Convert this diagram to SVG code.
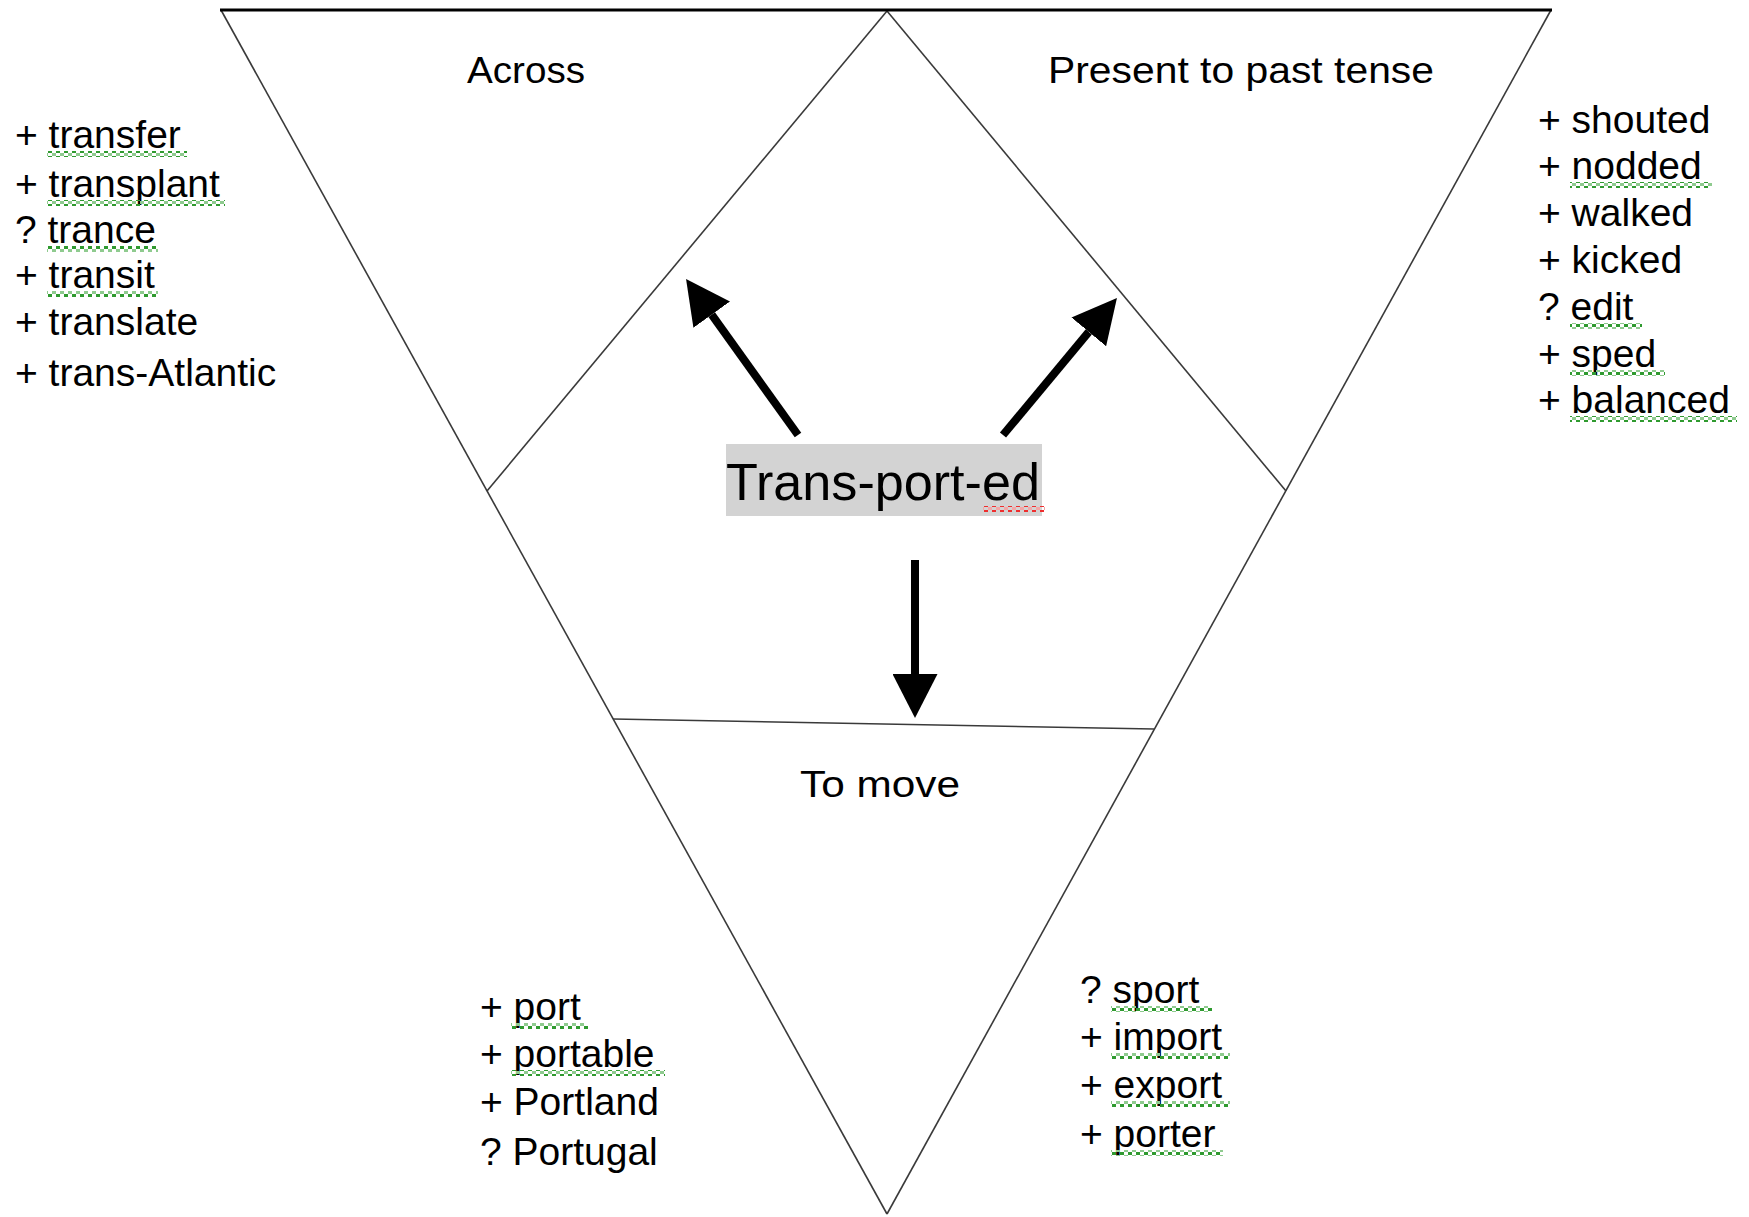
<svg xmlns="http://www.w3.org/2000/svg" width="1749" height="1217" viewBox="0 0 1749 1217">
  <style>
    text { font-family: "Liberation Sans", Arial, sans-serif; fill: #000; }
    .head { font-size: 37px; }
    .word { font-size: 39px; }
    .core { font-size: 52px; }
    .edge { stroke: #3a3a3a; stroke-width: 1.6; fill: none; }
    .rim { stroke: #000; stroke-width: 3; fill: none; }
    .arrow { stroke: #000; stroke-width: 8; fill: none; stroke-linecap: butt; }
    .squig { fill: url(#greenWave); }
    .squig-red { fill: url(#redWave); }
  </style>
  <defs>
    <marker id="head" viewBox="0 0 44 45" markerWidth="44" markerHeight="45" markerUnits="userSpaceOnUse" refX="0" refY="22.5" orient="auto">
      <path d="M0,0 L44,22.5 L0,45 Z" fill="#000"/>
    </marker>
    <pattern id="greenWave" width="8" height="6" patternUnits="userSpaceOnUse">
      <rect x="0" y="0" width="4" height="3" fill="#2f9a2f"/>
      <rect x="4" y="3" width="4" height="3" fill="#8fcb8f"/>
    </pattern>
    <pattern id="redWave" width="8" height="6" patternUnits="userSpaceOnUse">
      <rect x="0" y="0" width="4" height="3" fill="#ee2e2e"/>
      <rect x="4" y="3" width="4" height="3" fill="#f4a6a6"/>
    </pattern>
  </defs>

  <rect width="1749" height="1217" fill="#fff"/>

  <!-- inverted triangle split into three sections -->
  <g id="frame">
    <line class="edge" x1="221" y1="10" x2="887" y2="1214"/>
    <line class="edge" x1="1551" y1="10" x2="887" y2="1214"/>
    <line class="edge" x1="887" y1="11" x2="487" y2="491"/>
    <line class="edge" x1="887" y1="11" x2="1286" y2="491"/>
    <line class="edge" x1="613" y1="719" x2="1154" y2="729" stroke-width="2.2"/>
    <line class="rim" x1="220" y1="10" x2="1552" y2="10"/>
  </g>

  <g id="section-across">
    <text class="head" x="467" y="83" textLength="118" lengthAdjust="spacingAndGlyphs">Across</text>
  </g>

  <g id="section-tense">
    <text class="head" x="1048" y="83" textLength="386" lengthAdjust="spacingAndGlyphs">Present to past tense</text>
  </g>

  <g id="section-move">
    <text class="head" x="800" y="797" textLength="160" lengthAdjust="spacingAndGlyphs">To move</text>
  </g>

  <g id="root-word">
    <rect x="726" y="444" width="316" height="72" fill="#d3d3d3"/>
    <text class="core" x="726" y="500" textLength="314" lengthAdjust="spacingAndGlyphs">Trans-port-ed</text>
    <rect class="squig-red" x="983" y="506" width="62" height="6"/>
  </g>

  <g id="list-across">
    <text class="word" x="15" y="148">+ transfer</text>
    <text class="word" x="15" y="197">+ transplant</text>
    <text class="word" x="15" y="243">? trance</text>
    <text class="word" x="15" y="288">+ transit</text>
    <text class="word" x="15" y="335">+ translate</text>
    <text class="word" x="15" y="386">+ trans-Atlantic</text>
    <rect class="squig" x="47" y="151" width="140" height="6"/>
    <rect class="squig" x="47" y="200" width="178" height="6"/>
    <rect class="squig" x="47" y="246" width="111" height="6"/>
    <rect class="squig" x="47" y="291" width="111" height="6"/>
  </g>

  <g id="list-tense">
    <text class="word" x="1538" y="133">+ shouted</text>
    <text class="word" x="1538" y="179">+ nodded</text>
    <text class="word" x="1538" y="226">+ walked</text>
    <text class="word" x="1538" y="273">+ kicked</text>
    <text class="word" x="1538" y="320">? edit</text>
    <text class="word" x="1538" y="367">+ sped</text>
    <text class="word" x="1538" y="413">+ balanced</text>
    <rect class="squig" x="1570" y="182" width="142" height="6"/>
    <rect class="squig" x="1570" y="323" width="72" height="6"/>
    <rect class="squig" x="1570" y="370" width="95" height="6"/>
    <rect class="squig" x="1570" y="416" width="167" height="6"/>
  </g>

  <g id="list-move-left">
    <text class="word" x="480" y="1020">+ port</text>
    <text class="word" x="480" y="1067">+ portable</text>
    <text class="word" x="480" y="1115">+ Portland</text>
    <text class="word" x="480" y="1165">? Portugal</text>
    <rect class="squig" x="511" y="1023" width="77" height="6"/>
    <rect class="squig" x="511" y="1070" width="154" height="6"/>
  </g>

  <g id="list-move-right">
    <text class="word" x="1080" y="1003">? sport</text>
    <text class="word" x="1080" y="1050">+ import</text>
    <text class="word" x="1080" y="1098">+ export</text>
    <text class="word" x="1080" y="1147">+ porter</text>
    <rect class="squig" x="1111" y="1006" width="101" height="6"/>
    <rect class="squig" x="1111" y="1053" width="119" height="6"/>
    <rect class="squig" x="1111" y="1101" width="119" height="6"/>
    <rect class="squig" x="1111" y="1150" width="112" height="6"/>
  </g>

  <!-- arrows from the root word to each section -->
  <g id="connectors">
    <line class="arrow" x1="798" y1="435" x2="711.7" y2="314.7" marker-end="url(#head)"/>
    <line class="arrow" x1="1003" y1="435" x2="1088.8" y2="331.9" marker-end="url(#head)"/>
    <line class="arrow" x1="915" y1="560" x2="915" y2="674" marker-end="url(#head)"/>
  </g>
</svg>
